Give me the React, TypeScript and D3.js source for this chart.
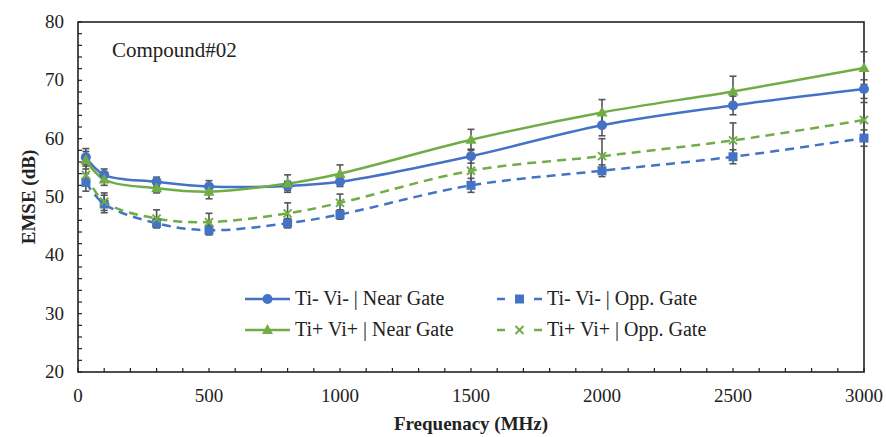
import React from "react";
import * as d3 from "d3";

const freqs = [30, 100, 300, 500, 800, 1000, 1500, 2000, 2500, 3000];
const tiMinusNear = [56.8, 53.8, 52.6, 51.8, 51.9, 52.6, 57.0, 62.3, 65.7, 68.5];
const tiMinusNearErr = [1.5, 1.0, 0.8, 1.0, 0.8, 0.8, 1.2, 1.8, 1.6, 1.6];
const tiPlusNear = [56.3, 53.0, 51.5, 50.9, 52.3, 54.0, 59.8, 64.5, 68.1, 72.1];
const tiPlusNearErr = [1.5, 1.0, 0.8, 1.2, 1.5, 1.5, 1.8, 2.2, 2.6, 2.8];
const tiMinusOpp = [52.5, 48.8, 45.5, 44.3, 45.5, 47.0, 52.0, 54.5, 56.9, 60.1];
const tiMinusOppErr = [1.5, 1.5, 0.8, 0.8, 0.8, 0.8, 1.2, 1.0, 1.2, 1.4];
const tiPlusOpp = [53.8, 49.2, 46.3, 45.7, 47.2, 49.0, 54.5, 57.0, 59.7, 63.2];
const tiPlusOppErr = [1.8, 1.5, 1.5, 1.5, 1.8, 1.5, 2.5, 3.0, 3.0, 3.0];

const xTicks = [0, 500, 1000, 1500, 2000, 2500, 3000];
const yTicks = [20, 30, 40, 50, 60, 70, 80];

const BLUE = "#4472C4";
const GREEN = "#70AD47";
const SERIF = "Liberation Serif";

type Series = {
  name: string;
  values: number[];
  errs: number[];
  color: string;
  dashed: boolean;
  marker: "circle" | "square" | "triangle" | "x";
};

const series: Series[] = [
  { name: "Ti- Vi- | Near Gate", values: tiMinusNear, errs: tiMinusNearErr, color: BLUE, dashed: false, marker: "circle" },
  { name: "Ti- Vi- | Opp. Gate", values: tiMinusOpp, errs: tiMinusOppErr, color: BLUE, dashed: true, marker: "square" },
  { name: "Ti+ Vi+ | Near Gate", values: tiPlusNear, errs: tiPlusNearErr, color: GREEN, dashed: false, marker: "triangle" },
  { name: "Ti+ Vi+ | Opp. Gate", values: tiPlusOpp, errs: tiPlusOppErr, color: GREEN, dashed: true, marker: "x" },
];

function Marker({ kind, x, y, color }: { kind: string; x: number; y: number; color: string }) {
  if (kind === "circle") return <circle cx={x} cy={y} r={5} fill={color} />;
  if (kind === "square") return <rect x={x - 4.5} y={y - 4.5} width={9} height={9} fill={color} />;
  if (kind === "triangle")
    return <path d={`M${x},${y - 6}L${x + 5.5},${y + 4}L${x - 5.5},${y + 4}Z`} fill={color} />;
  return (
    <path d={`M${x - 4},${y - 4}L${x + 4},${y + 4}M${x + 4},${y - 4}L${x - 4},${y + 4}`} stroke={color} strokeWidth={2} />
  );
}

export default function App() {
  const W = 886, H = 437;
  const left = 78, right = 864, top = 22, bottom = 372;
  const x = d3.scaleLinear().domain([0, 3000]).range([left, right]);
  const y = d3.scaleLinear().domain([20, 80]).range([bottom, top]);
  const line = d3
    .line<number>()
    .x((_, i) => x(freqs[i]))
    .y((d) => y(d))
    .curve(d3.curveCatmullRom.alpha(0.5));

  const xMinor = d3.range(0, 3001, 100);
  const yMinor = d3.range(20, 81, 2);

  const legend = [
    { s: series[0], lx: 245, ly: 299 },
    { s: series[1], lx: 497, ly: 299 },
    { s: series[2], lx: 245, ly: 330 },
    { s: series[3], lx: 497, ly: 330 },
  ];

  return (
    <svg width={W} height={H} fontFamily={SERIF} style={{ position: "absolute", left: 0, top: 0, background: "#fff", fontFamily: SERIF }}>
      <style>{`svg text { font-family: "Liberation Serif", "Times New Roman", serif !important; }`}</style>
      <rect x={0} y={0} width={W} height={H} fill="#fff" />
      {xMinor.map((t) => (
        <line key={"xm" + t} x1={x(t)} x2={x(t)} y1={bottom} y2={bottom - 4} stroke="#222" strokeWidth={1.2} />
      ))}
      {yMinor.map((t) => (
        <line key={"ym" + t} x1={left} x2={left + 4} y1={y(t)} y2={y(t)} stroke="#222" strokeWidth={1.2} />
      ))}
      <rect x={left} y={top} width={right - left} height={bottom - top} fill="none" stroke="#222" strokeWidth={1.6} />
      {xTicks.map((t) => (
        <text key={"xt" + t} x={x(t)} y={bottom + 30} textAnchor="middle" fontSize={19} fill="#222" fontFamily={SERIF}>
          {t}
        </text>
      ))}
      {yTicks.map((t) => (
        <text key={"yt" + t} x={left - 14} y={y(t) + 6} textAnchor="end" fontSize={19} fill="#222" fontFamily={SERIF}>
          {t}
        </text>
      ))}
      <text x={(left + right) / 2} y={430} textAnchor="middle" fontSize={19} fontWeight="bold" fill="#222" fontFamily={SERIF}>
        Frequenacy (MHz)
      </text>
      <text
        transform={`translate(35,${(top + bottom) / 2}) rotate(-90)`}
        textAnchor="middle"
        fontSize={19}
        fontWeight="bold"
        fill="#222"
        fontFamily={SERIF}
      >
        EMSE (dB)
      </text>
      <text x={112} y={57} fontSize={21} fill="#222" fontFamily={SERIF}>
        Compound#02
      </text>
      {series.map((s) =>
        s.values.map((v, i) => {
          const cx = x(freqs[i]);
          const y1 = y(v + s.errs[i]);
          const y2 = y(v - s.errs[i]);
          return (
            <g key={s.name + "e" + i} stroke="#555" strokeWidth={1.6}>
              <line x1={cx} x2={cx} y1={y1} y2={y2} />
              <line x1={cx - 3.5} x2={cx + 3.5} y1={y1} y2={y1} />
              <line x1={cx - 3.5} x2={cx + 3.5} y1={y2} y2={y2} />
            </g>
          );
        })
      )}
      {series.map((s) => (
        <path
          key={s.name + "l"}
          d={line(s.values) || ""}
          fill="none"
          stroke={s.color}
          strokeWidth={2.5}
          strokeDasharray={s.dashed ? "9,6" : undefined}
        />
      ))}
      {series.map((s) =>
        s.values.map((v, i) => (
          <Marker key={s.name + "m" + i} kind={s.marker} x={x(freqs[i])} y={y(v)} color={s.color} />
        ))
      )}
      {legend.map(({ s, lx, ly }) => (
        <g key={s.name + "lg"}>
          {s.dashed ? (
            <>
              <line x1={lx} x2={lx + 8} y1={ly} y2={ly} stroke={s.color} strokeWidth={2.5} />
              <line x1={lx + 37} x2={lx + 45} y1={ly} y2={ly} stroke={s.color} strokeWidth={2.5} />
            </>
          ) : (
            <line x1={lx} x2={lx + 45} y1={ly} y2={ly} stroke={s.color} strokeWidth={2.5} />
          )}
          <Marker kind={s.marker} x={lx + 22.5} y={ly} color={s.color} />
          <text x={lx + 50} y={ly + 6} fontSize={20} fill="#222" fontFamily={SERIF}>
            {s.name}
          </text>
        </g>
      ))}
    </svg>
  );
}
